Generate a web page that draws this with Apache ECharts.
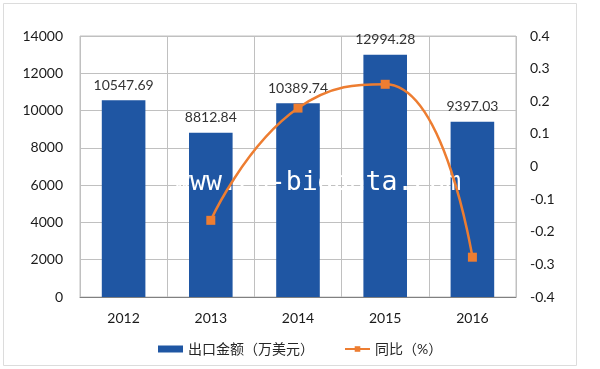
<!DOCTYPE html>
<html><head><meta charset="utf-8">
<script src="https://cdn.jsdelivr.net/npm/echarts@6/dist/echarts.min.js"></script>
<style>html,body{margin:0;padding:0;background:#fff}#c{width:600px;height:369px}</style>
</head><body><div id="c"></div>
<script>
const categories = ['2012', '2013', '2014', '2015', '2016'];
const exportValues = [10547.69, 8812.84, 10389.74, 12994.28, 9397.03];
const yoyValues = [null, -0.165, 0.179, 0.252, -0.278];
const leftTicks = { min: 0, max: 14000, interval: 2000 };
const rightTicks = { min: -0.4, max: 0.4, interval: 0.1 };
const seriesNames = ['出口金额（万美元）', '同比（%）'];
const watermark = 'www.cn-bigdata.com';

const font = 'Lato, "Noto Sans CJK SC", sans-serif';
const chart = echarts.init(document.getElementById('c'));
chart.setOption({
  animation: false,
  backgroundColor: '#fff',
  grid: { left: 80, right: 84, top: 36, bottom: 72, show: true, borderColor: '#c0c0c0', borderWidth: 1 },
  legend: {
    left: 153, top: 337, itemWidth: 25, itemHeight: 7, itemGap: 30,
    textStyle: { fontFamily: font, fontSize: 14, color: '#262626' },
    data: [{ name: seriesNames[0], icon: 'rect' }, { name: seriesNames[1] }]
  },
  xAxis: {
    type: 'category', data: categories,
    axisLine: { lineStyle: { color: '#808080', width: 1 } },
    axisTick: { show: false },
    splitLine: { show: true, interval: 0, lineStyle: { color: '#c0c0c0' } },
    axisLabel: { fontFamily: font, fontSize: 14, color: '#1a1a1a', margin: 14 }
  },
  yAxis: [
    { type: 'value', min: leftTicks.min, max: leftTicks.max, interval: leftTicks.interval,
      axisLine: { show: false }, axisTick: { show: false },
      splitLine: { lineStyle: { color: '#c0c0c0' } },
      axisLabel: { fontFamily: font, fontSize: 14, color: '#1a1a1a', margin: 17,
        formatter: v => String(v) } },
    { type: 'value', min: rightTicks.min, max: rightTicks.max, interval: rightTicks.interval,
      axisLine: { show: false }, axisTick: { show: false }, splitLine: { show: false },
      axisLabel: { fontFamily: font, fontSize: 14, color: '#1a1a1a', margin: 14,
        formatter: v => String(Math.round(v * 10) / 10) } }
  ],
  series: [
    { name: seriesNames[0], type: 'bar', data: exportValues, barWidth: '50%', z: 2,
      itemStyle: { color: '#1f56a3' },
      label: { show: true, position: 'top', distance: 8, fontFamily: font, fontSize: 14, color: '#333333',
        formatter: p => p.value.toFixed(2) } },
    { name: seriesNames[1], type: 'line', yAxisIndex: 1, data: yoyValues, smooth: 0.5,
      symbol: 'rect', symbolSize: 9, z: 10,
      lineStyle: { color: '#ed7d31', width: 2.5 },
      itemStyle: { color: '#ed7d31' } }
  ],
  graphic: [
    { type: 'rect', shape: { x: 3.5, y: 3.5, width: 573, height: 362 }, style: { fill: 'none', stroke: '#dcdcdc', lineWidth: 1 }, z: -1 },
    { type: 'text', left: 174, top: 170, z: 5,
      style: { text: watermark, fill: '#ffffff', fontFamily: '"DejaVu Sans Mono", monospace', fontSize: 26.5 } }
  ]
});
</script></body></html>
